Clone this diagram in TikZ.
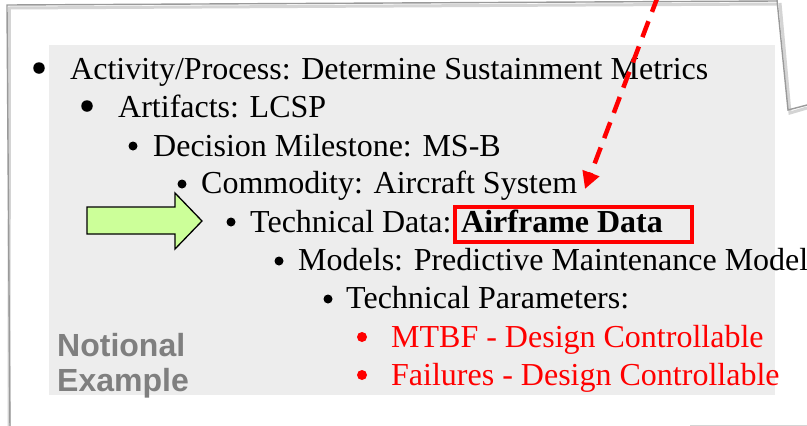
\documentclass[tikz,border=0pt]{standalone}
\usepackage{fontspec}
\setmainfont{Liberation Serif}
\newfontfamily\notefont{Liberation Sans}
\usetikzlibrary{arrows.meta}
\definecolor{panelgrey}{HTML}{EDEDED}
\definecolor{edgegrey}{HTML}{9A9A9A}
\definecolor{shadowgrey}{HTML}{D4D4D4}
\definecolor{arrowgreen}{HTML}{CCFF99}
\definecolor{notegrey}{HTML}{7F7F7F}
\definecolor{alertred}{HTML}{FF0000}
\begin{document}
\begin{tikzpicture}[x=1pt,y=-1pt,
  item/.style={anchor=base west, inner sep=0pt, font=\fontsize{32}{36}\selectfont},
  dot/.style={circle, fill=#1, inner sep=0pt},
  bigdot/.style={dot=black, minimum size=11.5pt},
  smalldot/.style={dot=black, minimum size=9pt},
  reddot/.style={dot=alertred, minimum size=10pt},
  note/.style={anchor=base west, inner sep=0pt, text=notegrey,
    font=\notefont\bfseries\fontsize{32}{36}\selectfont},
  panel edge/.style={draw=edgegrey, line width=1.4pt},
  panel shadow/.style={draw=shadowgrey, line width=3pt},
]
\useasboundingbox (0,0) rectangle (807,426);
\fill[white] (0,0) rectangle (807,426);

% paper sheet with its shadow and folded corner
\draw[panel shadow] (9,430) -- (9.5,8) -- (777,4);
\draw[panel shadow] (780,3) -- (790,113) -- (807,108);
\draw[panel edge] (10,430) -- (7,5) -- (777,1);
\draw[panel edge] (777,0) -- (788,110) -- (807,105);
\draw[draw=shadowgrey, line width=0.8pt] (690,425) -- (807,425);

% grey text area
\fill[panelgrey] (49,45) rectangle (775,395);

% bullet list
\node[bigdot] (b1) at (39,68) {};
\node[item] (t1) at (70,79) {Activity/Process: Determine Sustainment Metrics};
\node[bigdot] (b2) at (87,106) {};
\node[item] (t2) at (118,117) {Artifacts: LCSP};
\node[smalldot] (b3) at (133,146) {};
\node[item] (t3) at (153,156) {Decision Milestone: MS-B};
\node[smalldot] (b4) at (182,184) {};
\node[item] (t4) at (201,193) {Commodity: Aircraft System};
\node[smalldot] (b5) at (231,222) {};
\node[item] (t5) at (250,232) {Technical Data:};
\node[item, font=\bfseries\fontsize{32}{36}\selectfont] (t5b) at (461,232) {Airframe Data};
\node[smalldot] (b6) at (279,261) {};
\node[item] (t6) at (298,270) {Models: Predictive Maintenance Model};
\node[smalldot] (b7) at (328,299) {};
\node[item] (t7) at (346,308) {Technical Parameters:};
\node[reddot] (b8) at (362,337) {};
\node[item, text=alertred] (t8) at (391,347) {MTBF - Design Controllable};
\node[reddot] (b9) at (362,375) {};
\node[item, text=alertred] (t9) at (391,385) {Failures - Design Controllable};

% label in the lower left
\node[note] (n1) at (57,356) {Notional};
\node[note] (n2) at (57,391) {Example};

% red frame round the highlighted data item
\node[draw=alertred, line width=3.5pt, minimum width=237pt, minimum height=35pt,
  anchor=north west, inner sep=0pt] (hl) at (453,205) {};

% green pointer arrow
\filldraw[fill=arrowgreen, draw=black, line width=1.3pt]
  (87,207) -- (175,207) -- (175,193) -- (202,221) -- (175,249) -- (175,234) -- (87,234) -- cycle;

% red dashed arrow coming in from above
\coordinate (src) at (658,-4);
\coordinate (dst) at (585,189);
\draw[alertred, line width=4.5pt, dash pattern=on 17pt off 10pt,
  -{Triangle[length=17pt,width=17pt]}] (src) -- (dst);
\end{tikzpicture}
\end{document}
